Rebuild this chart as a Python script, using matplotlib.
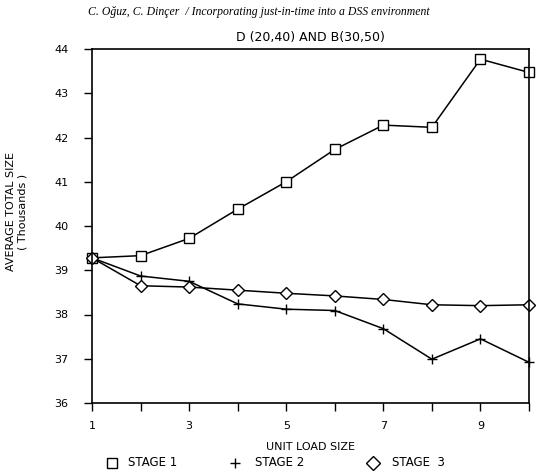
import numpy as np
import matplotlib
matplotlib.use("Agg")
import matplotlib.pyplot as plt
from matplotlib.lines import Line2D

# unit load size 1..10
unit_load = [1, 2, 3, 4, 5, 6, 7, 8, 9, 10]
stage1 = [39.28, 39.33, 39.72, 40.38, 41.00, 41.73, 42.28, 42.23, 43.77, 43.47]
stage2 = [39.28, 38.87, 38.75, 38.24, 38.12, 38.09, 37.68, 36.99, 37.45, 36.92]
stage3 = [39.28, 38.65, 38.62, 38.55, 38.48, 38.42, 38.34, 38.22, 38.20, 38.22]

x_ticklabels = ["1", "", "3", "", "5", "", "7", "", "9", ""]
y_ticks = [36, 37, 38, 39, 40, 41, 42, 43, 44]
legend_labels = ["STAGE 1", "STAGE 2", "STAGE  3"]

plt.rcParams['font.family'] = 'DejaVu Sans'
fig = plt.figure(figsize=(5.43, 4.72), dpi=100)
ax = fig.add_axes([92/543, 1-403/472, (529-92)/543, (403-49)/472])

lw = 1.1
ax.plot(unit_load, stage1, color='black', lw=lw, marker='s', ms=6.5,
        mfc='white', mec='black', mew=1.0, clip_on=False)
ax.plot(unit_load, stage2, color='black', lw=lw, marker='+', ms=7,
        mew=1.0, clip_on=False)
ax.plot(unit_load, stage3, color='black', lw=lw, marker='D', ms=6.5,
        mfc='white', mec='black', mew=1.0, clip_on=False)

ax.set_xlim(1, 10)
ax.set_ylim(36, 44)
ax.set_xticks(unit_load)
ax.set_xticklabels(x_ticklabels)
ax.set_yticks(y_ticks)
ax.tick_params(direction='out', length=6, width=1, labelsize=8)
ax.tick_params(axis='y', pad=11)
ax.tick_params(axis='x', pad=7)
for s in ax.spines.values():
    s.set_linewidth(1.2)

ax.set_title("D (20,40) AND B(30,50)", fontsize=9, pad=6)
ax.set_xlabel("UNIT LOAD SIZE", fontsize=8, labelpad=8)
ax.set_ylabel("AVERAGE TOTAL SIZE\n( Thousands )", fontsize=8)
ax.yaxis.set_label_coords(-0.148, 0.54)

fig.text(88/543, 1-12/472,
         "C. Oğuz, C. Dinçer  / Incorporating just-in-time into a DSS environment",
         family='Liberation Serif', style='italic', fontsize=8.5, va='center')

# legend row below the x label
leg_y = 1 - 463/472
leg_items = [('s', 112, 128), ('+', 235, 255), ('D', 373, 392)]
for (m, mx, tx), lab in zip(leg_items, legend_labels):
    fig.add_artist(Line2D([mx/543], [leg_y], transform=fig.transFigure,
                          ls='none', marker=m, ms=7,
                          mfc='white', mec='black', mew=1.0))
    fig.text(tx/543, leg_y, lab, fontsize=8.5, va='center')

fig.savefig("out.png", dpi=100)
